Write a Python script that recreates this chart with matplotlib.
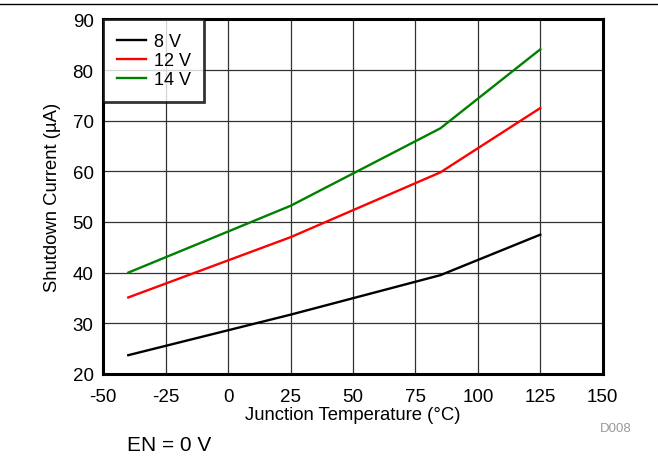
import matplotlib.pyplot as plt
from matplotlib.lines import Line2D

plt.rcParams["font.family"] = ["Liberation Sans", "DejaVu Sans"]
plt.rcParams["axes.unicode_minus"] = False

# shutdown current vs junction temperature
temps = [-40, 25, 85, 125]
i_8v = [23.7, 31.7, 39.5, 47.5]
i_12v = [35.1, 47.0, 59.8, 72.5]
i_14v = [40.0, 53.2, 68.5, 84.1]

labels = ["8 V", "12 V", "14 V"]
colors = ["black", "red", "green"]

fig = plt.figure(figsize=(6.58, 4.64), dpi=100)
ax = fig.add_axes([0.157, 0.192, 0.759, 0.764])

for series, label, color in zip([i_8v, i_12v, i_14v], labels, colors):
    ax.plot(temps, series, color=color, lw=1.7, label=label)

ax.set_xlim(-50, 150)
ax.set_ylim(20, 90)
ax.set_xticks(range(-50, 151, 25))
ax.set_yticks(range(20, 91, 10))
ax.grid(True, color="#333333", lw=0.9)
ax.tick_params(length=0, labelsize=13.5)
ax.tick_params(axis="x", pad=10)
ax.tick_params(axis="y", pad=7)
for spine in ax.spines.values():
    spine.set_linewidth(2.2)

ax.set_xlabel("Junction Temperature (\u00b0C)", fontsize=13.3, labelpad=1)
ax.set_ylabel("Shutdown Current (\u00b5A)", fontsize=13.3, labelpad=8)

leg = ax.legend(loc="upper left", fontsize=13, frameon=True, fancybox=False,
                borderaxespad=0, handlelength=1.6, handletextpad=0.45,
                labelspacing=0.12, borderpad=0.75)
leg.get_frame().set_edgecolor("black")
leg.get_frame().set_linewidth(2)

# rule across the top and notes below the plot
fig.add_artist(Line2D([0, 1], [0.989, 0.989], color="black", lw=1))
fig.text(0.96, 0.07, "D008", color="#999999", fontsize=9.5, ha="right")
fig.text(0.193, 0.028, "EN = 0 V", fontsize=15)

fig.savefig("out.png", dpi=100)
